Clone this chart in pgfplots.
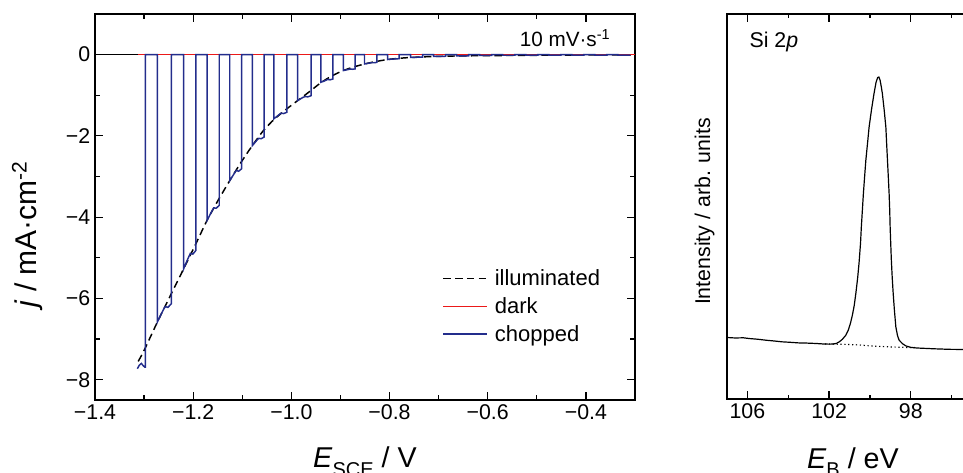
\documentclass[border=0pt]{standalone}
\usepackage{fontspec}
\setmainfont{Liberation Sans}
\usepackage{pgfplots}
\pgfplotsset{compat=1.18}

\definecolor{chopblue}{RGB}{35,45,140}
\definecolor{darkred}{RGB}{235,25,25}

\newcommand{\fs}[1]{\fontsize{#1}{1.2\dimexpr#1pt\relax}\selectfont}
\newcommand{\lowsub}[1]{\raisebox{-6.5pt}{\fs{15}#1}}

\begin{document}
\begin{tikzpicture}
\useasboundingbox (0,0) rectangle (722.25pt,354pt);
\clip (0,0) rectangle (722.25pt,354pt);

% photocurrent panel
\begin{axis}[
  at={(71.25pt,54pt)}, anchor=south west, scale only axis,
  width=405pt, height=289.5pt,
  xmin=-1.4, xmax=-0.3, ymin=-8.5, ymax=1,
  xtick={-1.4,-1.2,-1.0,-0.8,-0.6,-0.4},
  xticklabels={−1.4,−1.2,−1.0,−0.8,−0.6,−0.4},
  minor xtick={-1.3,-1.1,-0.9,-0.7,-0.5,-0.3},
  ytick={-8,-6,-4,-2,0}, yticklabels={−8,−6,−4,−2,0},
  minor ytick={-7,-5,-3,-1},
  tick align=inside, major tick length=6pt, minor tick length=3.8pt,
  axis line style={line width=1pt},
  every tick/.style={black, line width=0.9pt},
  ticklabel style={font=\fs{16}},
  xlabel={\textit{E}\lowsub{SCE} / V},
  ylabel={\textit{j} / mA·cm\textsuperscript{-2}},
  xlabel style={font=\fs{21.5}, at={(axis description cs:0.5,-0.176)}, anchor=base},
  ylabel style={font=\fs{22.5}, at={(axis description cs:-0.108,0.43)}, anchor=base},
  legend style={draw=none, fill=none, at={(axis description cs:0.636,0.345)},
    anchor=north west, font=\fs{16.5}, nodes={inner sep=0pt},
    row sep=7.3pt, column sep=5pt, cells={anchor=west}},
  legend image code/.code={\draw[#1] (0pt,0pt) -- (33pt,0pt);},
]
\addplot[black, line width=0.8pt, forget plot] coordinates {(-1.4,0) (-0.3,0)};

\addplot[black, line width=1.1pt, dash pattern=on 5.5pt off 3.3pt, smooth, tension=0.4]
coordinates {
(-1.312,-7.55) (-1.30,-7.28) (-1.2729,-6.58) (-1.246,-5.92) (-1.2194,-5.27)
(-1.1955,-4.68) (-1.1718,-4.08) (-1.1485,-3.57) (-1.1255,-3.10) (-1.1025,-2.65)
(-1.0796,-2.24) (-1.0577,-1.88) (-1.0357,-1.60) (-1.011,-1.35) (-0.9871,-1.13)
(-0.963,-0.91) (-0.9398,-0.69) (-0.917,-0.52) (-0.8939,-0.39) (-0.872,-0.30)
(-0.851,-0.23) (-0.828,-0.17) (-0.8041,-0.12) (-0.78,-0.09) (-0.7571,-0.07)
(-0.71,-0.045) (-0.65,-0.03) (-0.55,-0.02) (-0.45,-0.012) (-0.3,-0.005)
};
\addlegendentry{illuminated}

\addplot[darkred, line width=1.1pt] coordinates {(-1.312,0) (-0.3,0)};
\addlegendentry{dark}

\addplot[chopblue, line width=1.1pt] coordinates {
(-1.3137,-7.73) (-1.3095,-7.64) (-1.3055,-7.60) (-1.3015,-7.66) (-1.2986,-7.69) (-1.2973,-7.69) (-1.2973,0)
(-1.2729,0) (-1.2729,-6.58) (-1.2629,-6.33) (-1.2572,-6.20) (-1.2515,-6.22) (-1.2443,-6.13) (-1.2443,0)
(-1.2194,0) (-1.2194,-5.27) (-1.2107,-5.02) (-1.2057,-4.89) (-1.2007,-4.91) (-1.1945,-4.82) (-1.1945,0)
(-1.1718,0) (-1.1718,-4.08) (-1.1631,-3.88) (-1.1581,-3.77) (-1.1531,-3.78) (-1.1469,-3.71) (-1.1469,0)
(-1.1255,0) (-1.1255,-3.10) (-1.1171,-2.94) (-1.1122,-2.85) (-1.1074,-2.87) (-1.1014,-2.81) (-1.1014,0)
(-1.0796,0) (-1.0796,-2.24) (-1.0712,-2.12) (-1.0665,-2.06) (-1.0617,-2.07) (-1.0557,-2.03) (-1.0557,0)
(-1.0357,0) (-1.0357,-1.58) (-1.0264,-1.49) (-1.0211,-1.44) (-1.0158,-1.45) (-1.0092,-1.42) (-1.0092,0)
(-0.9871,0) (-0.9871,-1.13) (-0.9775,-1.06) (-0.9721,-1.03) (-0.9666,-1.04) (-0.9598,-1.01) (-0.9598,0)
(-0.9398,0) (-0.9398,-0.68) (-0.9312,-0.64) (-0.9263,-0.61) (-0.9214,-0.62) (-0.9153,-0.60) (-0.9153,0)
(-0.8939,0) (-0.8939,-0.39) (-0.8855,-0.37) (-0.8805,-0.355) (-0.8750,-0.36) (-0.8700,-0.35) (-0.8700,0)
(-0.8510,0) (-0.8510,-0.23) (-0.8420,-0.21) (-0.8370,-0.20) (-0.8310,-0.20) (-0.8259,-0.19) (-0.8259,0)
(-0.8041,0) (-0.8041,-0.12) (-0.7950,-0.11) (-0.7870,-0.105) (-0.7806,-0.10) (-0.7806,0)
(-0.7571,0) (-0.7571,-0.07) (-0.7450,-0.065) (-0.7327,-0.06) (-0.7327,0)
(-0.7102,0) (-0.7102,-0.045) (-0.6857,-0.04) (-0.6857,0)
(-0.6633,0) (-0.6633,-0.03) (-0.6388,-0.03) (-0.6388,0)
(-0.6163,0) (-0.6163,-0.02) (-0.5918,-0.02) (-0.5918,0)
(-0.5694,0) (-0.5694,-0.015) (-0.5449,-0.015) (-0.5449,0)
(-0.5224,0) (-0.5224,-0.01) (-0.4980,-0.01) (-0.4980,0)
(-0.4755,0) (-0.4755,-0.01) (-0.4510,-0.01) (-0.4510,0)
(-0.4286,0) (-0.4286,-0.01) (-0.4041,-0.01) (-0.4041,0)
(-0.3816,0) (-0.3816,-0.01) (-0.3571,-0.01) (-0.3571,0)
(-0.3347,0) (-0.3347,-0.01) (-0.3102,-0.01) (-0.3102,0)
};
\addlegendentry{chopped}

\node[anchor=base east, font=\fs{15.5}] at (axis description cs:0.963,0.915)
  {10 mV·s\textsuperscript{-1}};
\end{axis}

% XPS panel
\begin{axis}[
  at={(545.25pt,54.75pt)}, anchor=south west, scale only axis,
  width=183.75pt, height=288.75pt,
  x dir=reverse, xmin=95, xmax=107, ymin=0.5, ymax=4.5,
  xtick={98,102,106}, minor xtick={96,100,104},
  ytick=\empty, minor ytick={1,2,3,4},
  tick align=inside, major tick length=5.8pt, minor tick length=3pt,
  axis line style={line width=1pt},
  every tick/.style={black, line width=0.9pt},
  ticklabel style={font=\fs{16}},
  /pgf/number format/assume math mode=true,
  xlabel={\textit{E}\lowsub{B} / eV},
  ylabel={Intensity / arb. units},
  xlabel style={font=\fs{21.5}, at={(axis description cs:0.514,-0.18)}, anchor=base},
  ylabel style={font=\fs{16}, at={(axis description cs:-0.069,0.487)}, anchor=base},
]
\addplot[black, line width=0.9pt] coordinates {
(107.0,1.139) (106.6,1.134) (106.2,1.136) (105.9,1.128) (105.5,1.121) (105.1,1.111)
(104.7,1.103) (104.3,1.094) (103.9,1.089) (103.5,1.083) (103.1,1.081) (102.65,1.077)
(102.3,1.072) (102.0,1.07) (101.8,1.071) (101.65,1.077) (101.5,1.094) (101.35,1.12)
(101.18,1.163) (101.06,1.215) (100.95,1.29) (100.86,1.37) (100.77,1.47) (100.69,1.596)
(100.6,1.76) (100.53,1.92) (100.46,2.12) (100.42,2.288) (100.37,2.46) (100.32,2.634)
(100.26,2.81) (100.20,2.98) (100.12,3.15) (100.04,3.326) (99.92,3.51) (99.80,3.673)
(99.70,3.79) (99.62,3.84) (99.56,3.845) (99.50,3.81) (99.44,3.74) (99.39,3.673)
(99.30,3.50) (99.22,3.326) (99.18,3.15) (99.14,2.98) (99.10,2.81) (99.06,2.634)
(99.03,2.46) (99.01,2.288) (98.98,2.11) (98.95,1.942) (98.91,1.77) (98.86,1.596)
(98.80,1.42) (98.73,1.249) (98.65,1.16) (98.57,1.111) (98.4,1.074) (98.24,1.052)
(98.0,1.036) (97.7,1.030) (97.3,1.026) (96.9,1.022) (96.5,1.019) (96.1,1.016)
(95.6,1.015) (95.0,1.014)
};
\addplot[black, line width=0.9pt, dash pattern=on 0.9pt off 2pt] coordinates {
(102.2,1.072) (101.8,1.071) (101.4,1.069) (101.0,1.066) (100.6,1.062) (100.2,1.056)
(99.8,1.05) (99.4,1.045) (99.0,1.041) (98.6,1.038) (98.2,1.036) (97.8,1.034)
};
\node[anchor=base west, font=\fs{16}] at (axis description cs:0.073,0.912) {Si 2\textit{p}};
\end{axis}
\end{tikzpicture}
\end{document}
